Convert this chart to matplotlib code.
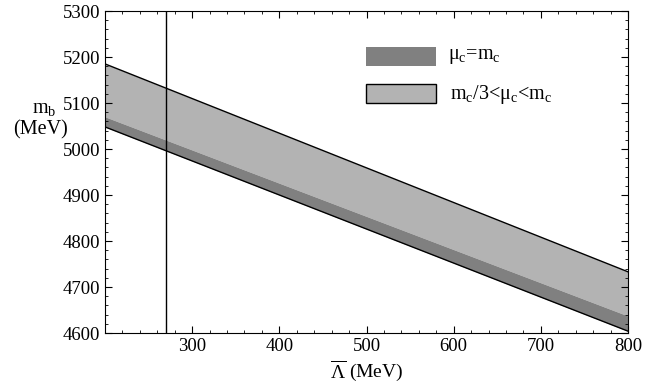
import numpy as np
import matplotlib.pyplot as plt
from matplotlib.patches import Rectangle
from matplotlib.ticker import MultipleLocator

plt.rcParams['font.family'] = ['Liberation Serif', 'DejaVu Serif']
plt.rcParams['mathtext.fontset'] = 'custom'
plt.rcParams['mathtext.rm'] = 'Liberation Serif'
plt.rcParams['mathtext.it'] = 'Liberation Serif:italic'

# Lambda-bar (MeV) at the ends of the bands
lam = [200, 800]
# mu_c = m_c band
dark_lo = [5048, 4604]
dark_hi = [5070, 4637]
# m_c/3 < mu_c < m_c band (upper edge)
light_hi = [5185, 4733]
lam_vline = 270

fig = plt.figure(figsize=(6.58, 3.83), dpi=100)
ax = fig.add_axes([105 / 658, 1 - 333 / 383, 523 / 658, 322 / 383])

ax.fill_between(lam, dark_hi, light_hi, color='#b3b3b3', lw=0)
ax.fill_between(lam, dark_lo, dark_hi, color='#808080', lw=0)
ax.plot(lam, light_hi, color='black', lw=1)
ax.plot(lam, dark_lo, color='black', lw=1)
ax.axvline(lam_vline, color='black', lw=1)

ax.set_xlim(200, 800)
ax.set_ylim(4600, 5300)
ax.set_xticks([300, 400, 500, 600, 700, 800])
ax.set_yticks(np.arange(4600, 5301, 100))
ax.xaxis.set_minor_locator(MultipleLocator(20))
ax.yaxis.set_minor_locator(MultipleLocator(20))
ax.tick_params(which='both', direction='in', top=True, right=True, labelsize=13.5)
ax.tick_params(which='major', length=5, width=0.8)
ax.tick_params(which='minor', length=2.5, width=0.6)
for s in ax.spines.values():
    s.set_linewidth(0.8)

ax.set_xlabel(r'$\overline{\Lambda}$ (MeV)', fontsize=14, labelpad=2)
fig.text(44 / 658, 1 - 108 / 383, r'm$_\mathrm{b}$', fontsize=14.5, ha='center', va='center')
fig.text(40 / 658, 1 - 130 / 383, '(MeV)', fontsize=14.5, ha='center', va='center')

# legend drawn by hand in figure pixels
fig.patches.append(Rectangle((366 / 658, 1 - 66 / 383), 70 / 658, 19 / 383,
                             transform=fig.transFigure, facecolor='#808080', edgecolor='none'))
fig.patches.append(Rectangle((366 / 658, 1 - 103 / 383), 70 / 658, 19 / 383,
                             transform=fig.transFigure, facecolor='#b3b3b3', edgecolor='black', lw=1))
fig.text(448 / 658, 1 - 56 / 383, r'μ$_\mathrm{c}$=m$_\mathrm{c}$', fontsize=14.5, va='center')
fig.text(450 / 658, 1 - 94 / 383, r'm$_\mathrm{c}$/3<μ$_\mathrm{c}$<m$_\mathrm{c}$', fontsize=14.5, va='center')

fig.savefig('out.png', dpi=100)
